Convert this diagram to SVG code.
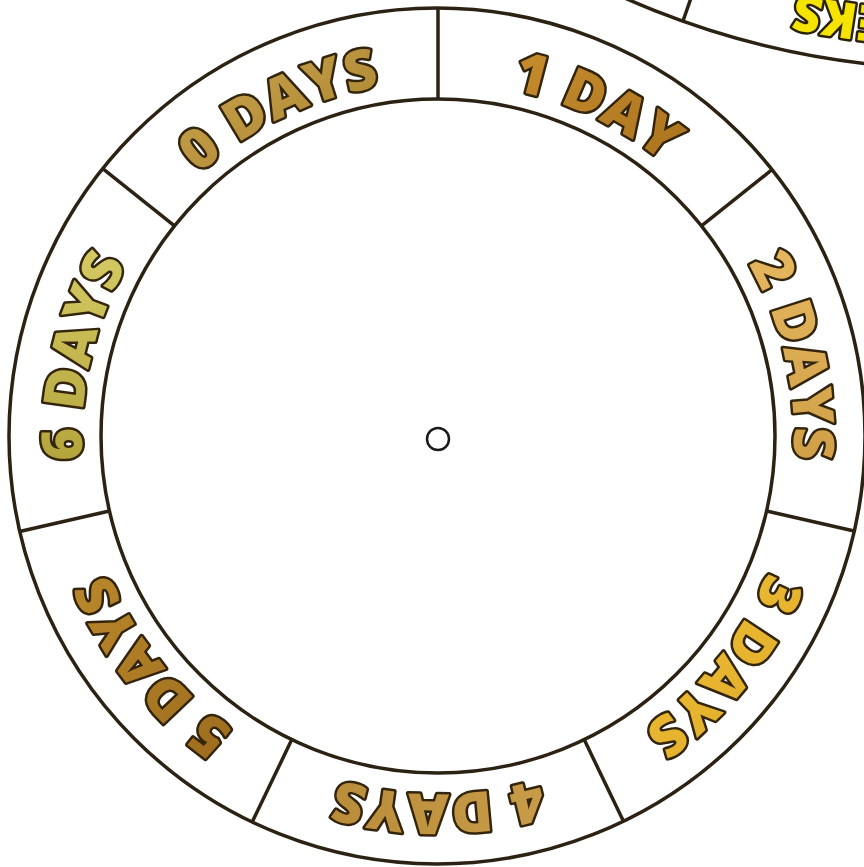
<svg xmlns="http://www.w3.org/2000/svg" xmlns:xlink="http://www.w3.org/1999/xlink" width="864" height="867" viewBox="0 0 864 867">
  <style>
    .ring { fill: none; stroke: #2b2214; stroke-width: 3.5; }
    .div { stroke: #2b2214; stroke-width: 3.5; stroke-linecap: butt; }
    .lbl { font-family: "Open Sans", "DejaVu Sans", sans-serif; font-weight: 800; font-size: 56px; letter-spacing: 1px; stroke: #33240c; stroke-width: 5; paint-order: stroke; stroke-linejoin: round; }
    .wk { font-family: "Open Sans", "DejaVu Sans", sans-serif; font-weight: 800; font-size: 50px; fill: #f4e400; stroke: #2a2208; stroke-width: 5; paint-order: stroke; stroke-linejoin: round; }
  </style>
  <defs>
    <path id="tp" d="M 438,82 A 356,356 0 1 1 438,794 A 356,356 0 1 1 438,82"/>
    <path id="tpw" d="M 961,-1537 A 774,774 0 1 1 961,11 A 774,774 0 1 1 961,-1537"/>
    <linearGradient id="g0" x1="0" y1="0" x2="1" y2="1"><stop offset="0" stop-color="#d2ac55"/><stop offset="1" stop-color="#a47c2a"/></linearGradient>
    <linearGradient id="g1" x1="0" y1="0" x2="1" y2="1"><stop offset="0" stop-color="#c99030"/><stop offset="1" stop-color="#a8701c"/></linearGradient>
    <linearGradient id="g2" x1="0" y1="0" x2="0" y2="1"><stop offset="0" stop-color="#e6b860"/><stop offset="1" stop-color="#d0a048"/></linearGradient>
    <linearGradient id="g3" x1="0" y1="0" x2="1" y2="1"><stop offset="0" stop-color="#f0c23a"/><stop offset="1" stop-color="#dca624"/></linearGradient>
    <linearGradient id="g4" x1="0" y1="0" x2="1" y2="0"><stop offset="0" stop-color="#b88c38"/><stop offset="1" stop-color="#c89c48"/></linearGradient>
    <linearGradient id="g5" x1="0" y1="0" x2="1" y2="1"><stop offset="0" stop-color="#bc8a2c"/><stop offset="1" stop-color="#9a6a1c"/></linearGradient>
    <linearGradient id="g6" x1="0" y1="0" x2="0" y2="1"><stop offset="0" stop-color="#d6cc66"/><stop offset="1" stop-color="#b4a43c"/></linearGradient>
  </defs>
  <rect width="864" height="867" fill="#ffffff"/>

  <g id="weeks-wheel">
    <circle class="ring" cx="961" cy="-763" r="832"/>
    <line class="div" x1="683" y1="21" x2="691" y2="-2"/>
    <text class="wk"><textPath href="#tpw" startOffset="53.4%" text-anchor="end">EKS</textPath></text>
  </g>

  <g id="days-wheel">
    <circle class="ring" cx="437" cy="436" r="428"/>
    <circle class="ring" cx="438" cy="436" r="337"/>
    <circle id="hole" cx="438" cy="439" r="11" fill="#ffffff" stroke="#1a1a1a" stroke-width="2.5"/>
  </g>

  <g id="dividers">
    <line class="div" x1="438" y1="99" x2="438" y2="8"/>
    <line class="div" x1="701.5" y1="225.9" x2="772.6" y2="169.2"/>
    <line class="div" x1="766.6" y1="511.0" x2="855.2" y2="531.2"/>
    <line class="div" x1="584.2" y1="739.6" x2="623.6" y2="821.6"/>
    <line class="div" x1="291.8" y1="739.6" x2="252.4" y2="821.6"/>
    <line class="div" x1="109.4" y1="511.0" x2="20.8" y2="531.2"/>
    <line class="div" x1="174.5" y1="225.9" x2="103.4" y2="169.2"/>
  </g>

  <g id="label-0"><text class="lbl" fill="url(#g0)"><textPath href="#tp" startOffset="92.86%" text-anchor="middle">0 DAYS</textPath></text></g>
  <g id="label-1"><text class="lbl" fill="url(#g1)"><textPath href="#tp" startOffset="7.14%" text-anchor="middle">1 DAY</textPath></text></g>
  <g id="label-2"><text class="lbl" fill="url(#g2)"><textPath href="#tp" startOffset="21.43%" text-anchor="middle">2 DAYS</textPath></text></g>
  <g id="label-3"><text class="lbl" fill="url(#g3)"><textPath href="#tp" startOffset="35.71%" text-anchor="middle">3 DAYS</textPath></text></g>
  <g id="label-4"><text class="lbl" fill="url(#g4)"><textPath href="#tp" startOffset="50%" text-anchor="middle">4 DAYS</textPath></text></g>
  <g id="label-5"><text class="lbl" fill="url(#g5)"><textPath href="#tp" startOffset="64.29%" text-anchor="middle">5 DAYS</textPath></text></g>
  <g id="label-6"><text class="lbl" fill="url(#g6)"><textPath href="#tp" startOffset="78.57%" text-anchor="middle">6 DAYS</textPath></text></g>
</svg>
